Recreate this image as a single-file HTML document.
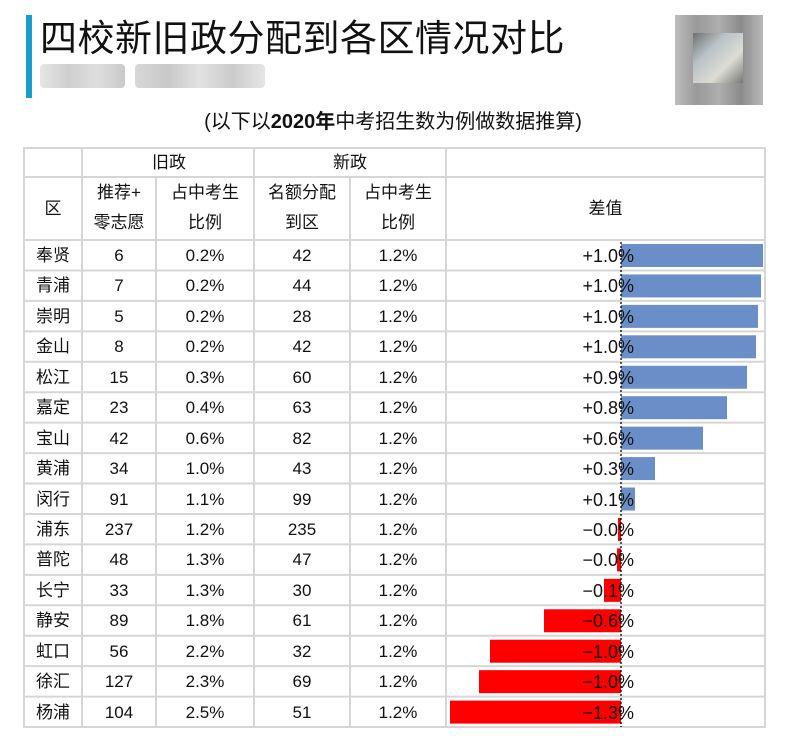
<!DOCTYPE html>
<html><head><meta charset="utf-8"><style>
body{margin:0;width:786px;height:753px;background:#fff;position:relative;overflow:hidden;font-family:"Liberation Sans","Noto Sans CJK SC",sans-serif;color:#111}
.a{position:absolute}
.c{position:absolute;text-align:center;font-size:17px;line-height:30px}
</style></head><body>
<div class="a" style="left:26px;top:15px;width:6px;height:83px;background:#1a9ccc"></div>
<div class="a" style="left:40px;top:14px;font-size:37px;line-height:50px;letter-spacing:0.5px">四校新旧政分配到各区情况对比</div>
<div class="a" style="left:40px;top:64px;width:85px;height:24px;background:linear-gradient(90deg,#e6e6e6,#cfcfcf,#dedede,#c9c9c9);border-radius:4px"></div>
<div class="a" style="left:135px;top:64px;width:130px;height:24px;background:linear-gradient(90deg,#d8d8d8,#c8c8c8,#e2e2e2,#cbcbcb,#e6e6e6);border-radius:4px"></div>
<div class="a" style="left:675px;top:15px;width:88px;height:90px;background:
linear-gradient(90deg,#b5b5b5,#8e8e8e,#a5a5a5,#7e7e7e,#b2b2b2);opacity:.9"></div>
<div class="a" style="left:693px;top:33px;width:50px;height:50px;background:linear-gradient(135deg,#6f6f6f,#b9c2c6,#dcdcd4,#777)"></div>
<div class="a" style="left:0;width:786px;top:108px;text-align:center;font-size:20px;line-height:28px">(以下以<b>2020年</b>中考招生数为例做数据推算)</div>
<svg class="a" style="left:0;top:0" width="786" height="753">
<g stroke="#d6d6d6" stroke-width="2" fill="none">
<rect x="24" y="148" width="741" height="579"/>
<line x1="24" y1="177" x2="765" y2="177"/>
<line x1="24" y1="240" x2="765" y2="240"/>
<line x1="82" y1="148" x2="82" y2="727"/><line x1="156" y1="177" x2="156" y2="727"/>
<line x1="254" y1="148" x2="254" y2="727"/><line x1="350" y1="177" x2="350" y2="727"/>
<line x1="446" y1="148" x2="446" y2="727"/>
<g id="rl"></g>
</g>
<g id="bars"></g>
<line x1="621" y1="242" x2="621" y2="727" stroke="#000" stroke-width="1.3" stroke-dasharray="2,2"/>
</svg>
<div class="c" style="left:82px;width:174px;top:148px">旧政</div>
<div class="c" style="left:254px;width:192px;top:148px">新政</div>
<div class="c" style="left:24px;width:58px;top:194px">区</div>
<div class="c" style="left:82px;width:74px;top:178px">推荐+<br>零志愿</div>
<div class="c" style="left:156px;width:98px;top:178px">占中考生<br>比例</div>
<div class="c" style="left:254px;width:96px;top:178px">名额分配<br>到区</div>
<div class="c" style="left:350px;width:96px;top:178px">占中考生<br>比例</div>
<div class="c" style="left:446px;width:319px;top:194px">差值</div>
<div id="rows"></div>
<script>
var d=[["奉贤",6,"0.2%",42,"+1.0%",142],["青浦",7,"0.2%",44,"+1.0%",140],["崇明",5,"0.2%",28,"+1.0%",137],["金山",8,"0.2%",42,"+1.0%",135],["松江",15,"0.3%",60,"+0.9%",126],["嘉定",23,"0.4%",63,"+0.8%",106],["宝山",42,"0.6%",82,"+0.6%",82],["黄浦",34,"1.0%",43,"+0.3%",34],["闵行",91,"1.1%",99,"+0.1%",14],["浦东",237,"1.2%",235,"−0.0%",-3],["普陀",48,"1.3%",47,"−0.0%",-4],["长宁",33,"1.3%",30,"−0.1%",-17],["静安",89,"1.8%",61,"−0.6%",-77],["虹口",56,"2.2%",32,"−1.0%",-131],["徐汇",127,"2.3%",69,"−1.0%",-142],["杨浦",104,"2.5%",51,"−1.3%",-171]];
var h="",b="",l="",ns="http://www.w3.org/2000/svg";
d.forEach(function(r,i){var y=240+i*30.44;
if(i>0)l+='<line x1="24" y1="'+y+'" x2="765" y2="'+y+'"/>';
var cs=[[24,58,r[0]],[82,74,r[1]],[156,98,r[2]],[254,96,r[3]],[350,96,"1.2%"]];
cs.forEach(function(c){h+='<div class="c" style="left:'+c[0]+'px;width:'+c[1]+'px;top:'+(y+1)+'px">'+c[2]+'</div>'});
h+='<div class="c" style="left:446px;width:188px;text-align:right;top:'+(y+1)+'px;font-size:18px">'+r[4]+'</div>';
var w=r[5],x=w>0?621:621+w;
b+='<rect x="'+x+'" y="'+(y+4)+'" width="'+Math.abs(w)+'" height="23" fill="'+(w>0?'#6a8fc8':'#ff0000')+'"/>';
});
document.getElementById("rows").innerHTML=h;
document.getElementById("rl").innerHTML=l;
document.getElementById("bars").innerHTML=b;
</script>
</body></html>
